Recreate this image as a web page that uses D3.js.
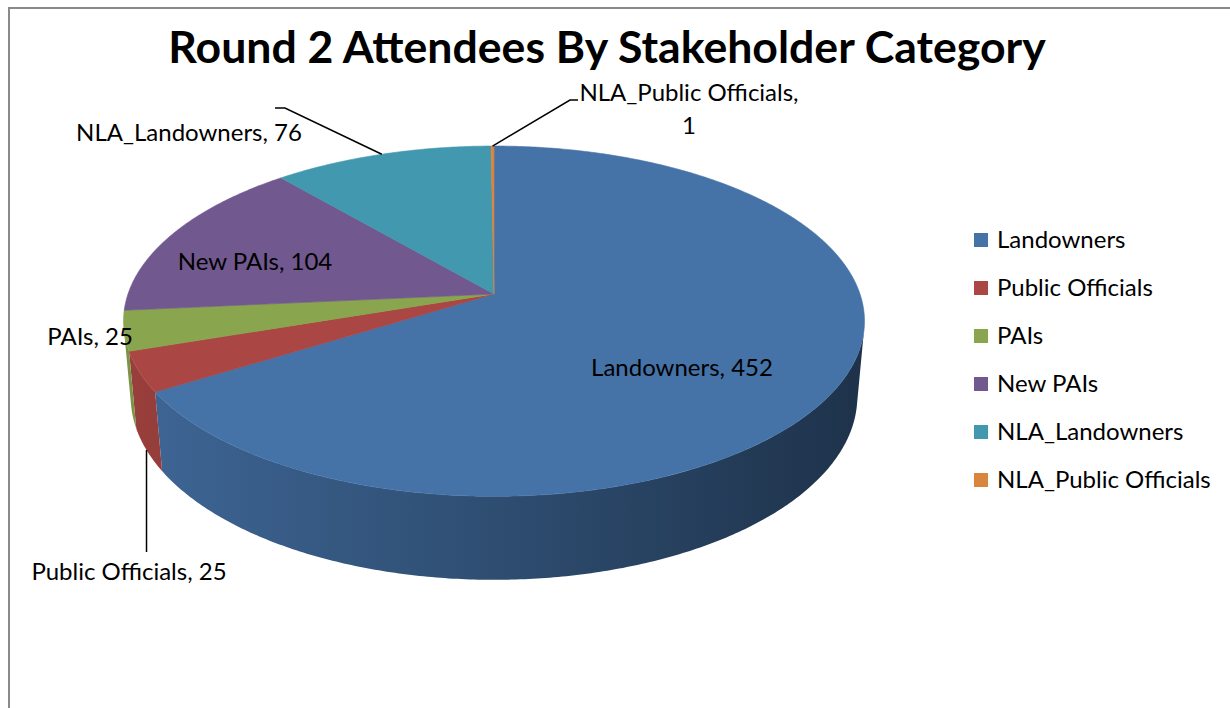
<!DOCTYPE html>
<html>
<head>
<meta charset="utf-8">
<script src="https://cdn.jsdelivr.net/npm/d3@7"></script>
<style>
  body { margin: 0; background: #fff; }
  text { font-family: Lato, "Open Sans", sans-serif; fill: #000; }
</style>
</head>
<body>
<svg id="chart"></svg>
<script>
var width = 1230;
var height = 708;

// chart data
var categories = ["Landowners", "Public Officials", "PAIs", "New PAIs", "NLA_Landowners", "NLA_Public Officials"];
var values = [452, 25, 25, 104, 76, 1];
var colors = ["#4572A7", "#AA4643", "#89A54E", "#71588F", "#4198AF", "#DB843D"];

// where excel put the data labels (x, y, anchor) and leader line bends
// a null x in a bend means "keep the x of the previous point"
var labelPos = [
    {x: 682, y: 376, anchor: "middle"},
    {x: 129, y: 580, anchor: "middle", leader: [[null, 552]], fromBase: true},
    {x: 90,  y: 345, anchor: "middle"},
    {x: 255, y: 270, anchor: "middle"},
    {x: 189, y: 141, anchor: "middle", leader: [[285, 108], [275, 108]]},
    {x: 689, y: 101, anchor: "middle", leader: [[570, 100], [578, 100]], lineGap: 33}
];

var svg = d3.select("#chart").attr("width", width).attr("height", height);

// chart area frame (only left and top show in the picture)
svg.append("path")
    .attr("d", "M9," + (height + 2) + "V8H" + (width + 2))
    .attr("fill", "none")
    .attr("stroke", "#8a8a8a")
    .attr("stroke-width", 2);

svg.append("text")
    .attr("x", 607)
    .attr("y", 63)
    .attr("text-anchor", "middle")
    .style("font-size", "44.6px")
    .style("font-weight", 700)
    .text("Round 2 Attendees By Stakeholder Category");

// perspective 3d pie: unit disc, camera tilted above it
var cx = 494, cy = 294, k = 366;
var tilt = Math.asin(0.467), D = 5.7, depth = 0.235;
var sT = Math.sin(tilt), cT = Math.cos(tilt);

function project(a, r, h) {
    var X = r * Math.sin(a), Z = -r * Math.cos(a), Y = h;
    var sc = D / (D - (Z * cT + Y * sT));
    return [cx + k * X * sc, cy + k * (Z * sT - Y * cT) * sc];
}

// part of the outer wall that faces the camera
var wallLim = Math.acos(-1 / (D * cT));
var wallMin = wallLim, wallMax = 2 * Math.PI - wallLim;

var pie = d3.pie().sort(null).value(function(d) { return d; });
var arcs = pie(values);

var line = d3.line();

function arcPoints(a0, a1, h) {
    var n = Math.max(2, Math.ceil((a1 - a0) / 0.01));
    return d3.range(n + 1).map(function(i) { return project(a0 + (a1 - a0) * i / n, 1, h); });
}

// side gradients, lit from the left
var defs = svg.append("defs");
colors.forEach(function(c, i) {
    var g = defs.append("linearGradient")
        .attr("id", "side" + i)
        .attr("gradientUnits", "userSpaceOnUse")
        .attr("x1", 125).attr("x2", 866).attr("y1", 0).attr("y2", 0);
    g.append("stop").attr("offset", 0).attr("stop-color", d3.color(c).darker(0.3));
    g.append("stop").attr("offset", 0.45).attr("stop-color", d3.color(c).darker(1.0));
    g.append("stop").attr("offset", 1).attr("stop-color", d3.color(c).darker(2.3));
});

var walls = svg.append("g").attr("class", "walls");
arcs.forEach(function(d, i) {
    var a0 = Math.max(d.startAngle, wallMin), a1 = Math.min(d.endAngle, wallMax);
    if (a1 <= a0) return;
    var pts = arcPoints(a0, a1, 0).concat(arcPoints(a0, a1, -depth).reverse());
    walls.append("path")
        .attr("d", line(pts) + "Z")
        .attr("fill", "url(#side" + i + ")");
});

var tops = svg.append("g").attr("class", "tops");
arcs.forEach(function(d, i) {
    var pts = [project(0, 0, 0)].concat(arcPoints(d.startAngle, d.endAngle, 0));
    tops.append("path")
        .attr("d", line(pts) + "Z")
        .attr("fill", colors[i])
        .attr("stroke", colors[i])
        .attr("stroke-width", 0.6);
});

// data labels
var labels = svg.append("g").attr("class", "labels");
arcs.forEach(function(d, i) {
    var p = labelPos[i];
    var mid = (d.startAngle + d.endAngle) / 2;
    if (p.leader) {
        var pts = [project(mid, 1, p.fromBase ? -depth : 0)];
        p.leader.forEach(function(b) {
            pts.push([b[0] == null ? pts[pts.length - 1][0] : b[0], b[1]]);
        });
        labels.append("path")
            .attr("d", line(pts))
            .attr("fill", "none")
            .attr("stroke", "#000")
            .attr("stroke-width", 1.5);
    }
    var t = labels.append("text")
        .attr("x", p.x)
        .attr("y", p.y)
        .attr("text-anchor", p.anchor)
        .style("font-size", "24px");
    if (p.lineGap) {
        t.append("tspan").attr("x", p.x).text(categories[i] + ",");
        t.append("tspan").attr("x", p.x).attr("dy", p.lineGap).text(values[i]);
    } else {
        t.text(categories[i] + ", " + values[i]);
    }
});

// legend
var legend = svg.append("g").attr("transform", "translate(974,240)");
var item = legend.selectAll("g")
    .data(categories)
    .enter()
    .append("g")
    .attr("transform", function(d, i) { return "translate(0," + (i * 48) + ")"; });
item.append("rect")
    .attr("x", 0).attr("y", -7)
    .attr("width", 14).attr("height", 14)
    .attr("fill", function(d, i) { return colors[i]; });
item.append("text")
    .attr("x", 23)
    .attr("y", 8)
    .style("font-size", "24px")
    .text(function(d) { return d; });
</script>
</body>
</html>
